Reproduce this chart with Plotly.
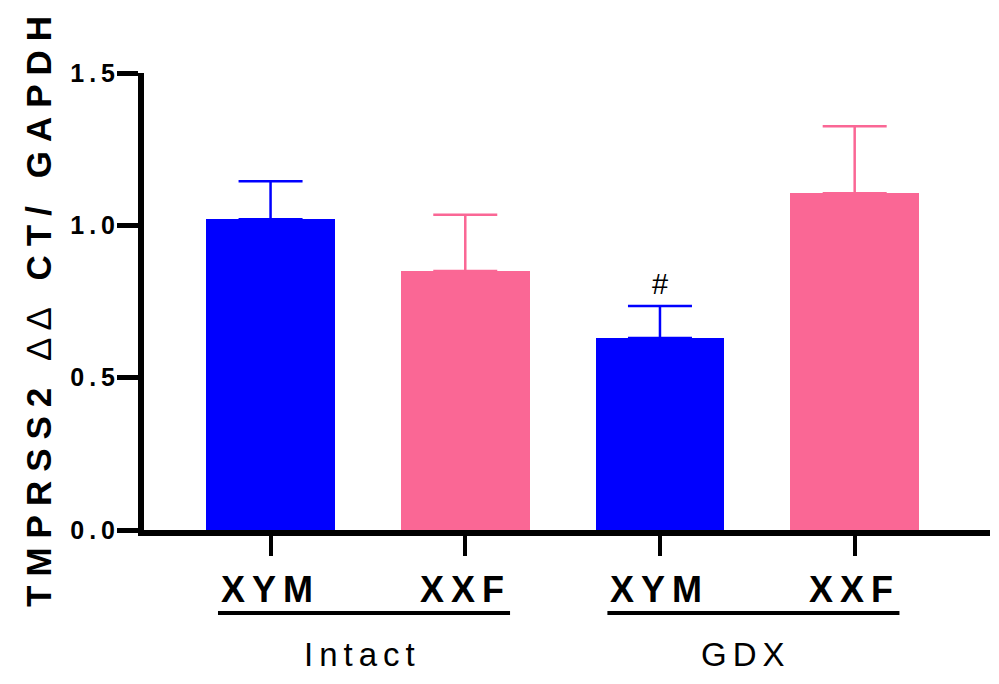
import plotly.graph_objects as go

# Group means and SEM for TMPRSS2 expression
genotypes = ["XYM", "XXF", "XYM", "XXF"]
treatments = ["Intact", "Intact", "GDX", "GDX"]
means = [1.02, 0.85, 0.63, 1.105]
sem = [0.125, 0.185, 0.105, 0.22]
bar_colors = ["#0000FF", "#FA6795", "#0000FF", "#FA6795"]
significance = ["", "", "#", ""]
groups = ["Intact", "GDX"]
y_ticks = [0.0, 0.5, 1.0, 1.5]

W, H = 999, 684
L, R, T, B = 144, 9, 73, 154
PH = H - T - B
PW = W - L - R
FONT = "Liberation Sans, Arial, sans-serif"
THIN = "\u2009"

xs = list(range(len(means)))


def py(pix):
    """Page pixel row -> paper y."""
    return (H - B - pix) / PH


def px(pix):
    """Page pixel column -> paper x."""
    return (pix - L) / PW


def spaced(text, gap):
    return f'<span style="letter-spacing:{gap}px">{text}</span>'


fig = go.Figure()
fig.add_trace(go.Bar(
    x=xs, y=means,
    width=0.66,
    marker=dict(color=bar_colors, line=dict(width=0)),
    hoverinfo="skip",
))

# upper error bars, one trace per bar so each takes its bar's colour
for x, m, s, c in zip(xs, means, sem, bar_colors):
    fig.add_trace(go.Scatter(
        x=[x], y=[m],
        mode="markers", marker=dict(size=0.1, color=c),
        error_y=dict(type="data", symmetric=False, array=[s], arrayminus=[0],
                     thickness=2.5, width=32, color=c),
        hoverinfo="skip", showlegend=False,
    ))

annotations = []
for x, g in zip(xs, genotypes):
    annotations.append(dict(
        x=x, y=py(589), xref="x", yref="paper", showarrow=False,
        text=spaced(f"<b>{g}</b>", 7), xanchor="center", yanchor="middle",
        font=dict(family=FONT, size=36, color="black"),
    ))

for x, m, s, lab in zip(xs, means, sem, significance):
    if lab:
        annotations.append(dict(
            x=x, y=m + s, xref="x", yref="y", showarrow=False,
            text=lab, yshift=22, xanchor="center", yanchor="middle",
            font=dict(family=FONT, size=29, color="black"),
        ))

shapes = []
group_shift = {"Intact": -0.03, "GDX": -0.06}
for g in groups:
    idx = [i for i, t in enumerate(treatments) if t == g]
    x0, x1 = xs[idx[0]], xs[idx[-1]]
    annotations.append(dict(
        x=(x0 + x1) / 2 + group_shift[g], y=py(655),
        xref="x", yref="paper", showarrow=False,
        text=spaced(g, 6), xanchor="center", yanchor="middle",
        font=dict(family=FONT, size=33, color="black"),
    ))
    shapes.append(dict(
        type="line", xref="x", yref="paper",
        x0=x0 - 0.27, x1=x1 + 0.23, y0=py(613), y1=py(613),
        line=dict(color="black", width=4),
    ))

annotations.append(dict(
    x=px(38), y=py(307), xref="paper", yref="paper", showarrow=False,
    textangle=-90, xanchor="center", yanchor="middle",
    text=spaced("<b>TMPRSS2 </b>\u2206\u2206<b> CT/ GAPDH</b>", 9),
    font=dict(family=FONT, size=35, color="black"),
))

fig.update_layout(
    width=W, height=H,
    margin=dict(l=L, r=R, t=T, b=B, pad=0),
    paper_bgcolor="white", plot_bgcolor="white",
    showlegend=False, bargap=0,
    annotations=annotations, shapes=shapes,
    xaxis=dict(
        range=[-0.650, 3.695], showgrid=False, zeroline=False,
        showline=True, linewidth=6, linecolor="black",
        tickvals=xs, ticktext=[""] * len(xs),
        ticks="outside", ticklen=20, tickwidth=4, tickcolor="black",
    ),
    yaxis=dict(
        range=[0, 1.5], showgrid=False, zeroline=False,
        showline=True, linewidth=6, linecolor="black",
        tickvals=y_ticks,
        ticktext=[THIN.join(f"{v:.1f}") for v in y_ticks],
        ticks="outside", ticklen=21, tickwidth=5, tickcolor="black",
        ticklabelstandoff=-3,
        tickfont=dict(family=FONT, size=25, color="black", weight="bold"),
    ),
)

fig.write_html("out.html")
